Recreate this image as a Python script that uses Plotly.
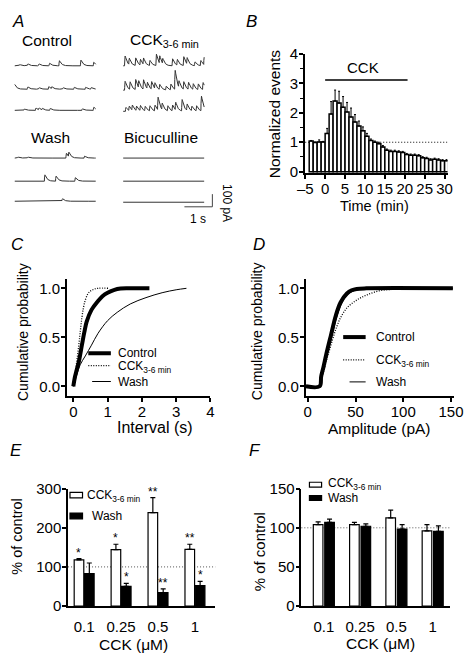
import numpy as np
import plotly.graph_objects as go

W, H = 472, 664
FONT = "Liberation Sans, Arial, Helvetica, sans-serif"

# ---------------- Panel A: sIPSC events, time (s) and amplitude (pA) ----------------
ctrl1_t = [0.16, 0.45, 0.85, 1.23, 1.58, 2.35, 2.81]
ctrl1_a = [10, 15, 15, 20, 40, 45, 28]
ctrl2_t = [-0.03, 0.45, 0.85, 1.20, 1.31, 1.71, 2.11, 2.52, 2.72]
ctrl2_a = [40, 18, 12, 20, 15, 12, 15, 15, 12]
ctrl3_t = [0.33, 0.74, 0.85, 0.97, 1.25, 2.40, 2.81]
ctrl3_a = [10, 18, 15, 12, 15, 12, 25]
cck1_t = [0.05, 0.20, 0.43, 0.60, 0.71, 0.94, 1.17, 1.29, 1.40, 1.75, 1.92, 2.15, 2.27, 2.55, 2.76, 2.88]
cck1_a = [77, 50, 60, 45, 50, 40, 90, 60, 40, 55, 45, 70, 50, 30, 40, 60]
cck2_t = [0.05, 0.23, 0.43, 0.54, 0.71, 0.85, 1.00, 1.12, 1.29, 1.52, 1.69, 1.84, 1.98, 2.15, 2.32, 2.49, 2.67, 2.84]
cck2_a = [70, 60, 80, 55, 75, 50, 60, 45, 40, 30, 45, 150, 50, 60, 55, 45, 45, 55]
cck3_t = [0.08, 0.20, 0.31, 0.46, 0.60, 0.77, 0.94, 1.12, 1.23, 1.38, 1.58, 1.75, 1.86, 2.09, 2.27, 2.44, 2.61, 2.78]
cck3_a = [30, 35, 40, 35, 40, 35, 40, 45, 100, 50, 40, 45, 60, 90, 50, 35, 40, 115]
wash1_t = [0.10, 0.45, 1.83, 1.92, 2.48]
wash1_a = [8, 8, 38, 35, 15]
wash2_t = [1.06, 1.46, 2.15]
wash2_a = [50, 40, 28]
wash3_t = [1.69]
wash3_a = [20]
bic_t = []
bic_a = []

# ---------------- Panel B: normalized events per minute ----------------
b_time = [-3.5 + i for i in range(35)]
b_val = [1.04, 0.99, 1.01, 1.01, 1.30, 1.96, 2.40, 2.33, 2.19, 2.03, 1.86, 1.69, 1.55, 1.39, 1.20,
         1.06, 1.00, 0.95, 0.84, 0.73, 0.69, 0.69, 0.67, 0.65, 0.58, 0.56, 0.56, 0.54, 0.47, 0.45,
         0.40, 0.42, 0.40, 0.37, 0.37]
b_err = [0.02, 0.02, 0.07, 0.02, 0.17, 0.42, 0.37, 0.40, 0.36, 0.32, 0.30, 0.25, 0.17, 0.13, 0.10,
         0.05, 0.04, 0.05, 0.05, 0.04, 0.04, 0.04, 0.04, 0.04, 0.04, 0.04, 0.04, 0.04, 0.04, 0.04,
         0.04, 0.04, 0.04, 0.04, 0.04]
b_ticks = [-5, 0, 5, 10, 15, 20, 25, 30]
b_ticktext = ["\u20135", "0", "5", "10", "15", "20", "25", "30"]

# ---------------- Panel C: cumulative interval distributions ----------------
c_ctrl_x = [0, 0.05, 0.10, 0.16, 0.25, 0.32, 0.39, 0.53, 0.72, 0.85, 1.0, 1.2, 1.38, 1.6, 2.22]
c_ctrl_y = [0, 0.10, 0.17, 0.25, 0.42, 0.55, 0.66, 0.78, 0.87, 0.92, 0.955, 0.985, 0.997, 1.0, 1.0]
c_cck_x = [0, 0.05, 0.10, 0.16, 0.20, 0.25, 0.30, 0.35, 0.42, 0.49, 0.60, 0.72, 1.05]
c_cck_y = [0, 0.12, 0.25, 0.42, 0.55, 0.70, 0.81, 0.88, 0.94, 0.97, 0.99, 1.0, 1.0]
c_wash_x = [0, 0.05, 0.11, 0.20, 0.35, 0.53, 0.72, 1.0, 1.28, 1.66, 2.12, 2.59, 3.0, 3.3]
c_wash_y = [0, 0.06, 0.125, 0.22, 0.31, 0.42, 0.54, 0.67, 0.755, 0.84, 0.905, 0.955, 0.985, 1.0]

# ---------------- Panel D: cumulative amplitude distributions ----------------
d_ctrl_x = [-2, 12.4, 14, 16.5, 19.2, 24.2, 29.3, 34.3, 41, 46, 51.2, 61.3, 152]
d_ctrl_y = [0, 0, 0.10, 0.20, 0.32, 0.52, 0.72, 0.855, 0.947, 0.98, 0.994, 1.0, 1.0]
d_cck_x = [12.4, 14, 16, 19.2, 24.2, 29.3, 34.3, 41, 51.2, 61.3, 74.8, 88.3, 100]
d_cck_y = [0, 0.06, 0.13, 0.25, 0.42, 0.58, 0.70, 0.80, 0.88, 0.93, 0.975, 0.99, 1.0]
d_wash_x = [12.4, 14, 16.5, 19.2, 24.2, 29.3, 34.3, 41, 51.2, 61.3, 152]
d_wash_y = [0, 0.09, 0.18, 0.28, 0.47, 0.67, 0.82, 0.93, 0.985, 1.0, 1.0]

# ---------------- Panels E / F ----------------
conc_labels = ["0.1", "0.25", "0.5", "1"]
e_cck = [118, 144, 239, 145]
e_cck_err = [3, 14, 38, 13]
e_wash = [83, 50, 34, 52]
e_wash_err = [27, 8, 10, 11]
e_cck_star = ["*", "*", "**", "**"]
e_wash_star = ["", "*", "**", "*"]
f_cck = [104, 104, 112.6, 96]
f_cck_err = [3.6, 3, 10, 8]
f_wash = [107, 102, 98.5, 95.5]
f_wash_err = [4, 3, 5.5, 7]

# ======================================================================
def xd(a, b):
    return [a / W, b / W]

def yd(top, bottom):
    return [1 - bottom / H, 1 - top / H]

def P(x, y):
    return x / W, 1 - y / H

fig = go.Figure()

# ---- Panel A traces ----
PX_PER_S = 29.0
PA_PER_PX = 100 / 13.0
A_TOP, A_BOT = 20, 220
t_grid = np.arange(0, 2.9, 0.004)
TAU_R, TAU_D = 0.008, 0.07
_s = np.arange(0, 1, 0.0005)
_kpeak = np.max(np.exp(-_s / TAU_D) - np.exp(-_s / TAU_R))

def current(times, amps):
    y = np.zeros_like(t_grid)
    for t0, a in zip(times, amps):
        dt = t_grid - t0
        m = dt >= 0
        y[m] += a * (np.exp(-dt[m] / TAU_D) - np.exp(-dt[m] / TAU_R)) / _kpeak
    return y

def base(y_px):
    return (A_BOT - y_px) * PA_PER_PX

LEFT0 = 7 / PX_PER_S
RIGHT0 = 119.5 / PX_PER_S
a_traces = [
    (ctrl1_t, ctrl1_a, LEFT0, 58.3), (ctrl2_t, ctrl2_a, LEFT0, 82.3), (ctrl3_t, ctrl3_a, LEFT0, 104),
    (cck1_t, cck1_a, RIGHT0, 58.3), (cck2_t, cck2_a, RIGHT0, 83.3), (cck3_t, cck3_a, RIGHT0, 105),
    (wash1_t, wash1_a, LEFT0, 153), (wash2_t, wash2_a, LEFT0, 176.7), (wash3_t, wash3_a, LEFT0, 197.3),
    (bic_t, bic_a, RIGHT0, 153), (bic_t, bic_a, RIGHT0, 176.7), (bic_t, bic_a, RIGHT0, 198.3),
]
for tt, aa, x0, yb in a_traces:
    fig.add_trace(go.Scatter(x=t_grid + x0, y=current(tt, aa) + base(yb), mode="lines",
                             line=dict(color="#333", width=1), xaxis="x", yaxis="y",
                             hoverinfo="skip"))

# ---- Panel B bars ----
fig.add_trace(go.Bar(x=b_time, y=b_val, width=1.0,
                     marker=dict(color="white", line=dict(color="black", width=1.5)),
                     error_y=dict(type="data", symmetric=False, array=b_err, arrayminus=[0] * len(b_err),
                                  color="black", thickness=1, width=1),
                     xaxis="x2", yaxis="y2"))

# ---- Panel C curves ----
fig.add_trace(go.Scatter(x=c_wash_x, y=c_wash_y, mode="lines", line=dict(color="black", width=1, shape="spline"),
                         xaxis="x3", yaxis="y3"))
fig.add_trace(go.Scatter(x=c_cck_x, y=c_cck_y, mode="lines",
                         line=dict(color="black", width=1.3, dash="1px,1.5px", shape="spline"),
                         xaxis="x3", yaxis="y3"))
fig.add_trace(go.Scatter(x=c_ctrl_x, y=c_ctrl_y, mode="lines", line=dict(color="black", width=4, shape="spline"),
                         xaxis="x3", yaxis="y3"))

# ---- Panel D curves ----
fig.add_trace(go.Scatter(x=d_cck_x, y=d_cck_y, mode="lines",
                         line=dict(color="black", width=1.3, dash="1px,1.5px", shape="spline"),
                         xaxis="x4", yaxis="y4"))
fig.add_trace(go.Scatter(x=d_wash_x, y=d_wash_y, mode="lines", line=dict(color="black", width=1, shape="spline"),
                         xaxis="x4", yaxis="y4"))
fig.add_trace(go.Scatter(x=d_ctrl_x, y=d_ctrl_y, mode="lines", line=dict(color="black", width=4, shape="spline"),
                         xaxis="x4", yaxis="y4"))

# ---- Panels E / F bars ----
cat_x = list(range(len(conc_labels)))
def bars(vals, errs, color, offset, width, xa, ya):
    return go.Bar(x=cat_x, y=vals, width=width, offset=offset,
                  marker=dict(color=color, line=dict(color="black", width=1.2)),
                  error_y=dict(type="data", symmetric=False, array=errs, arrayminus=[0] * len(errs),
                               color="black", thickness=1.2, width=2.5),
                  xaxis=xa, yaxis=ya)

fig.add_trace(bars(e_cck, e_cck_err, "white", -0.27, 0.26, "x5", "y5"))
fig.add_trace(bars(e_wash, e_wash_err, "black", 0.01, 0.26, "x5", "y5"))
fig.add_trace(bars(f_cck, f_cck_err, "white", -0.29, 0.265, "x6", "y6"))
fig.add_trace(bars(f_wash, f_wash_err, "black", 0.025, 0.265, "x6", "y6"))

# ---- axes ----
TICK = 15
def ax(domain, rng, anchor, standoff=-3, **kw):
    d = dict(domain=domain, range=rng, anchor=anchor, showline=True, linecolor="black", linewidth=1.5,
             ticks="outside", ticklen=4, tickwidth=1.5, tickcolor="black", showgrid=False, zeroline=False,
             tickfont=dict(family=FONT, size=TICK, color="black"), fixedrange=True,
             ticklabelstandoff=standoff)
    d.update(kw)
    return d

hidden = dict(visible=False, showgrid=False, zeroline=False, fixedrange=True)
layout = dict(
    width=W, height=H, margin=dict(l=0, r=0, t=0, b=0), autosize=False,
    paper_bgcolor="white", plot_bgcolor="white", showlegend=False,
    xaxis=dict(domain=xd(0, 236), range=[0, 236 / PX_PER_S], anchor="y", **hidden),
    yaxis=dict(domain=yd(A_TOP, A_BOT), range=[0, (A_BOT - A_TOP) * PA_PER_PX], anchor="x", **hidden),
    xaxis2=ax(xd(308, 456), [-5.08, 30.75], "y2", tickvals=b_ticks, ticktext=b_ticktext),
    yaxis2=ax(yd(46, 168.2), [-0.04, 4], "x2", standoff=-2, tickvals=[0, 1, 2, 3, 4],
              minor=dict(dtick=0.5, ticklen=3, tickwidth=1.2, ticks="outside", tickcolor="black")),
    xaxis3=ax(xd(61, 210), [-0.19, 4.0], "y3", tickvals=[0, 1, 2, 3, 4]),
    yaxis3=ax(yd(277, 397), [-0.097, 1.096], "x3", standoff=-2, tickvals=[0, 0.5, 1.0],
              ticktext=["0.0", "0.5", "1.0"]),
    xaxis4=ax(xd(308.7, 463), [-2.32, 153.5], "y4", tickvals=[0, 50, 100, 150]),
    yaxis4=ax(yd(277, 397), [-0.097, 1.096], "x4", standoff=-2, tickvals=[0, 0.5, 1.0],
              ticktext=["0.0", "0.5", "1.0"]),
    xaxis5=ax(xd(62.3, 215), [-0.436, 3.55], "y5", tickvals=cat_x, ticktext=conc_labels, ticks="", standoff=6),
    yaxis5=ax(yd(492.3, 612.7), [0, 300], "x5", standoff=-2, tickvals=[0, 100, 200, 300]),
    xaxis6=ax(xd(304.3, 459), [-0.62, 3.49], "y6", tickvals=cat_x, ticktext=conc_labels, ticks="", standoff=6),
    yaxis6=ax(yd(492.3, 612.7), [0, 150], "x6", standoff=-2, tickvals=[0, 50, 100, 150]),
)

shapes = []
ann = []

def text(x, y, s, size, xanchor="center", yanchor="middle", **kw):
    px_, py_ = P(x, y)
    ann.append(dict(x=px_, y=py_, xref="paper", yref="paper", text=s, showarrow=False,
                    font=dict(family=FONT, size=size, color="black"), xanchor=xanchor, yanchor=yanchor, **kw))

def pline(x0, y0, x1, y1, width=1, dash="solid"):
    a, b = P(x0, y0)
    c, d = P(x1, y1)
    shapes.append(dict(type="line", xref="paper", yref="paper", x0=a, y0=b, x1=c, y1=d,
                       line=dict(color="black", width=width, dash=dash)))

def prect(x0, y0, x1, y1, fill):
    a, b = P(x0, y0)
    c, d = P(x1, y1)
    shapes.append(dict(type="rect", xref="paper", yref="paper", x0=a, y0=b, x1=c, y1=d,
                       fillcolor=fill, line=dict(color="black", width=1.2)))

# panel letters
for L, x, y in [("A", 10.8, 12.5), ("B", 252.7, 13.3), ("C", 10, 241.7), ("D", 260, 241.7),
                ("E", 8.5, 453), ("F", 256, 453)]:
    text(x, y, "<i>%s</i>" % L, 17)

# Panel A labels + scale bar
text(40, 32.5, "Control", 15.5)
text(125, 32.5, "CCK<sub>3-6 min</sub>", 15.5, xanchor="left")
text(44, 131.7, "Wash", 15.5)
text(159, 131.7, "Bicuculline", 15.5)
sb_x = 212 / PX_PER_S
sb_y = base(203)
shapes.append(dict(type="line", xref="x", yref="y", x0=sb_x, x1=sb_x, y0=sb_y, y1=sb_y + 100,
                   line=dict(color="#444", width=1)))
shapes.append(dict(type="line", xref="x", yref="y", x0=sb_x - 1, x1=sb_x, y0=sb_y, y1=sb_y,
                   line=dict(color="#444", width=1)))
text(227, 199, "100 pA", 12, textangle=90)
text(197, 216, "1 s", 12)

# Panel B extras
shapes.append(dict(type="line", xref="x2", yref="y2", x0=-5, x1=30.8, y0=1, y1=1, layer="below",
                   line=dict(color="black", width=1, dash="1px,2px")))
shapes.append(dict(type="line", xref="x2", yref="y2", x0=0, x1=20.7, y0=3.11, y1=3.11,
                   line=dict(color="black", width=1.6)))
ann.append(dict(x=9.5, y=3.52, xref="x2", yref="y2", text="CCK", showarrow=False,
                font=dict(family=FONT, size=15, color="black")))
text(276, 108, "Normalized events", 15.5, textangle=-90)
text(380, 202, "Time (min)", 14.5)

# Panel C / D titles + legends
text(15, 331, "Cumulative probability", 14, textangle=-90)
text(152, 429, "Interval (s)", 16)
text(258, 331, "Cumulative probability", 14, textangle=-90)
text(385, 431, "Amplitude (pA)", 15.5)

pline(83.3, 353.3, 106.7, 353.3, 4)
pline(83.3, 366, 106.7, 366, 1.2, "1px,1.5px")
pline(87.3, 382.3, 106.7, 382.3, 1)
text(111.7, 353, "Control", 12, xanchor="left")
text(112.5, 367.5, "CCK<sub>3-6 min</sub>", 12, xanchor="left")
text(112.5, 382.3, "Wash", 12, xanchor="left")

pline(347.7, 336.7, 371, 336.7, 4)
pline(347.7, 360, 371, 360, 1.2, "1px,1.5px")
pline(354.3, 382.7, 371, 382.7, 1)
text(380, 336.7, "Control", 12, xanchor="left")
text(380, 361.5, "CCK<sub>3-6 min</sub>", 12, xanchor="left")
text(380, 382.7, "Wash", 12, xanchor="left")

# Panel E / F extras
for xa, ya in [("x5", "y5"), ("x6", "y6")]:
    shapes.append(dict(type="line", xref=xa + " domain", yref=ya, x0=0, x1=1, y0=100, y1=100, layer="below",
                       line=dict(color="#555", width=1, dash="1px,2px")))
for i in range(len(conc_labels)):
    if e_cck_star[i]:
        ann.append(dict(x=i - 0.14, y=e_cck[i] + e_cck_err[i], xref="x5", yref="y5", text=e_cck_star[i],
                        showarrow=False, yanchor="middle", yshift=6,
                        font=dict(family=FONT, size=12, color="black")))
    if e_wash_star[i]:
        ann.append(dict(x=i + 0.14, y=e_wash[i] + e_wash_err[i], xref="x5", yref="y5", text=e_wash_star[i],
                        showarrow=False, yanchor="middle", yshift=6,
                        font=dict(family=FONT, size=12, color="black")))

prect(64.3, 496, 77.3, 501.7, "white")
prect(64.3, 517.3, 77.3, 523.3, "black")
text(80, 499.3, "CCK<sub>3-6 min</sub>", 12, xanchor="left")
text(85, 520.3, "Wash", 12, xanchor="left")
prect(312.7, 485.7, 325.3, 490.7, "white")
prect(312.7, 499.3, 325.3, 504.3, "black")
text(330.3, 487.7, "CCK<sub>3-6 min</sub>", 12, xanchor="left")
text(330.3, 501.7, "Wash", 12, xanchor="left")

text(10, 541, "% of control", 14.5, textangle=-90)
text(130, 652, "CCK (\u03bcM)", 15.5)
text(261, 557, "% of control", 15, textangle=-90)
text(386, 651, "CCK (\u03bcM)", 15.5)

layout["shapes"] = shapes
layout["annotations"] = ann
fig.update_layout(**layout)
fig.write_html("out.html", config={"displayModeBar": False},
               post_script="document.body.style.margin='0px';")
